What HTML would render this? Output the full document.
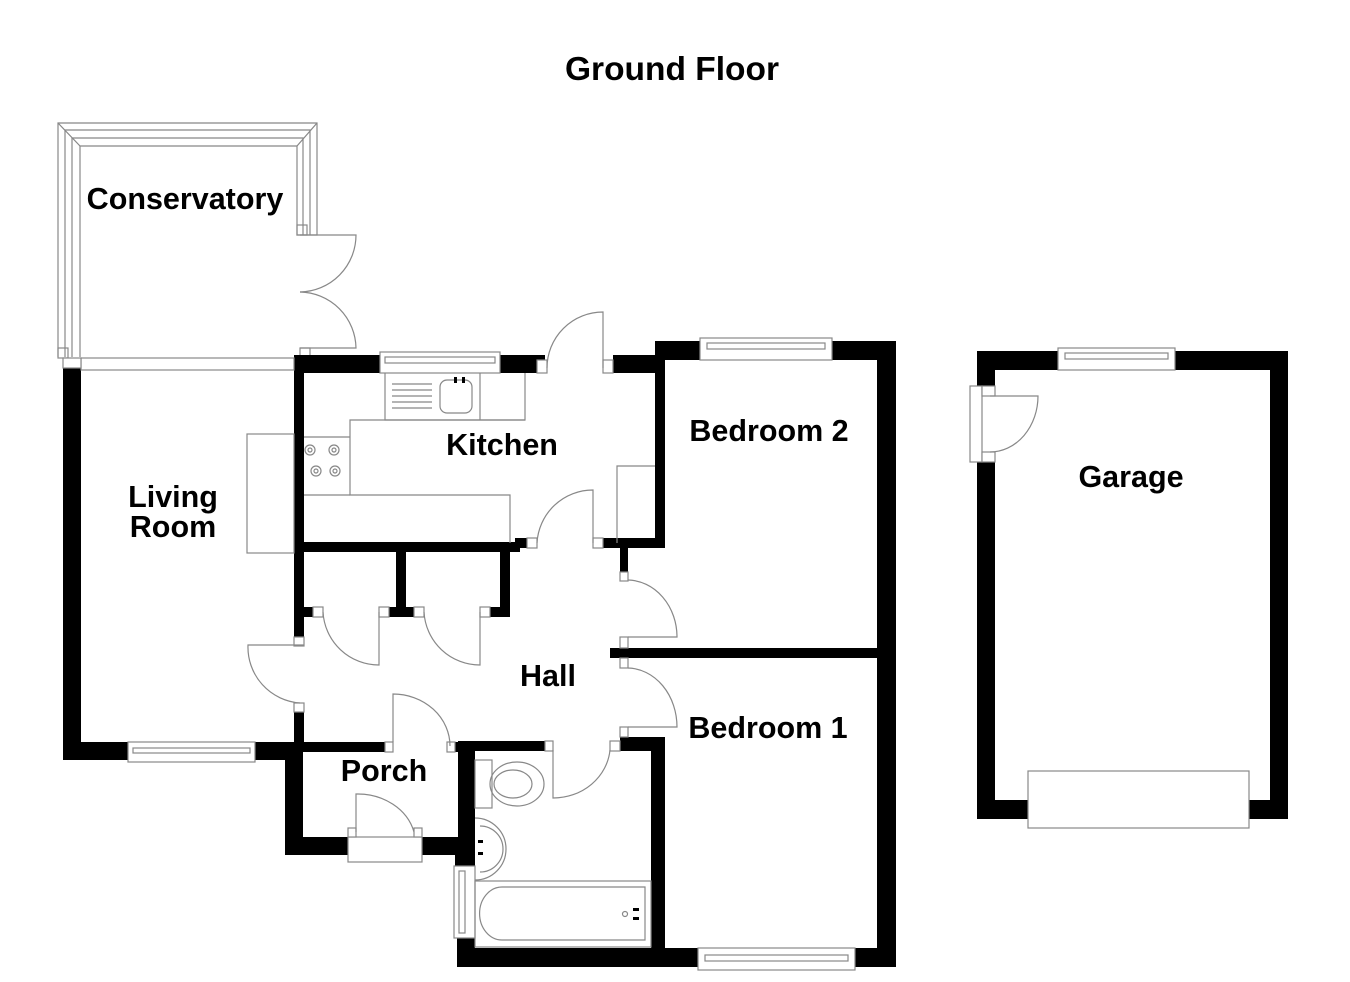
<!DOCTYPE html>
<html><head><meta charset="utf-8"><style>
html,body{margin:0;padding:0;background:#fff;}
svg{display:block}
text{font-family:"Liberation Sans",Arial,sans-serif;font-weight:bold;fill:#000}
</style></head><body>
<svg width="1350" height="982" viewBox="0 0 1350 982" xmlns="http://www.w3.org/2000/svg">
<text x="672" y="80" font-size="33.5" text-anchor="middle">Ground Floor</text>

<!-- Conservatory frame -->
<g fill="none" stroke="#888" stroke-width="1.2">
<path d="M58,357 V123 H317 V235 H297 V146 H80 V357"/>
<path d="M65,357 V130 H310 V235"/>
<path d="M72,357 V138 H303 V235"/>
<path d="M58,123 L80,146 M317,123 L297,146"/>
<rect x="297" y="225" width="10" height="10"/>
<path d="M300,235 H356 A57,57 0 0 1 300,292"/>
<path d="M300,292 A57,57 0 0 1 356,348 H300"/>
<rect x="300" y="348" width="10" height="10"/>
<rect x="58" y="348" width="10" height="10"/>
</g>

<g fill="#000">
<rect x="63" y="358" width="18" height="402"/>
<rect x="63" y="742" width="65" height="18"/>
<rect x="255" y="742" width="48" height="18"/>
<rect x="294" y="358" width="10" height="280"/>
<rect x="294" y="712" width="10" height="40"/>
<rect x="294" y="355" width="86" height="18"/>
<rect x="500" y="355" width="45" height="18"/>
<rect x="613" y="355" width="45" height="18"/>
<rect x="655" y="341" width="45" height="19"/>
<rect x="832" y="341" width="64" height="19"/>
<rect x="877" y="341" width="19" height="626"/>
<rect x="655" y="341" width="10" height="207"/>
<rect x="603" y="538" width="62" height="10"/>
<rect x="620" y="548" width="8" height="24"/>
<rect x="300" y="542" width="220" height="10"/>
<rect x="515" y="538" width="12" height="10"/>
<rect x="396" y="552" width="10" height="60"/>
<rect x="500" y="552" width="10" height="65"/>
<rect x="300" y="607" width="13" height="10"/>
<rect x="389" y="607" width="25" height="10"/>
<rect x="490" y="607" width="20" height="10"/>
<rect x="610" y="648" width="268" height="10"/>
<rect x="620" y="737" width="45" height="14"/>
<rect x="651" y="741" width="14" height="215"/>
<rect x="457" y="948" width="241" height="19"/>
<rect x="855" y="948" width="41" height="19"/>
<rect x="458" y="741" width="87" height="10"/>
<rect x="458" y="741" width="17" height="125"/>
<rect x="457" y="938" width="18" height="15"/>
<rect x="285" y="742" width="100" height="10"/>
<rect x="455" y="742" width="20" height="10"/>
<rect x="285" y="742" width="18" height="113"/>
<rect x="285" y="837" width="63" height="18"/>
<rect x="422" y="837" width="53" height="18"/>
<rect x="455" y="837" width="20" height="29"/>
<rect x="977" y="351" width="81" height="19"/>
<rect x="1175" y="351" width="113" height="19"/>
<rect x="1270" y="351" width="18" height="468"/>
<rect x="977" y="351" width="18" height="35"/>
<rect x="977" y="462" width="18" height="357"/>
<rect x="977" y="800" width="51" height="19"/>
<rect x="1248" y="800" width="40" height="19"/>
</g>

<g fill="#fff" stroke="#888" stroke-width="1.2">
<rect x="81" y="358" width="213" height="12"/>
<rect x="380" y="352" width="120" height="21"/>
<rect x="385" y="357" width="110" height="6"/>
<rect x="700" y="338" width="132" height="22"/>
<rect x="707" y="343" width="118" height="6"/>
<rect x="698" y="948" width="157" height="22"/>
<rect x="705" y="955" width="143" height="6"/>
<rect x="1058" y="348" width="117" height="22"/>
<rect x="1065" y="353" width="103" height="6"/>
<rect x="128" y="742" width="127" height="20"/>
<rect x="133" y="748" width="117" height="5"/>
<rect x="454" y="866" width="21" height="72"/>
<rect x="459" y="871" width="6" height="62"/>
<rect x="348" y="837" width="74" height="25"/>
<rect x="970" y="386" width="12" height="76"/>
<rect x="1028" y="771" width="221" height="57"/>
<rect x="294" y="637" width="10" height="9"/>
<rect x="294" y="703" width="10" height="9"/>
<rect x="313" y="607" width="10" height="10"/>
<rect x="379" y="607" width="10" height="10"/>
<rect x="414" y="607" width="10" height="10"/>
<rect x="480" y="607" width="10" height="10"/>
<rect x="527" y="538" width="10" height="10"/>
<rect x="593" y="538" width="10" height="10"/>
<rect x="620" y="572" width="8" height="9"/>
<rect x="620" y="637" width="8" height="11"/>
<rect x="620" y="658" width="8" height="10"/>
<rect x="620" y="727" width="8" height="10"/>
<rect x="545" y="741" width="8" height="10"/>
<rect x="610" y="741" width="10" height="10"/>
<rect x="385" y="742" width="8" height="10"/>
<rect x="447" y="742" width="8" height="10"/>
<rect x="537" y="360" width="10" height="13"/>
<rect x="603" y="360" width="10" height="13"/>
<rect x="982" y="386" width="13" height="10"/>
<rect x="982" y="452" width="13" height="10"/>
<rect x="348" y="828" width="8" height="9"/>
<rect x="414" y="828" width="8" height="9"/>
<rect x="63" y="358" width="18" height="10"/>
</g>

<g fill="none" stroke="#888" stroke-width="1.2">
<path d="M547,368 A56,56 0 0 1 603,312 V368"/>
<path d="M304,645 H248 A56,56 0 0 0 300,703"/>
<path d="M323,612 A56,56 0 0 0 379,665 V612"/>
<path d="M424,612 A56,56 0 0 0 480,665 V612"/>
<path d="M537,543 A56,56 0 0 1 593,490 V543"/>
<path d="M628,580 A50,57 0 0 1 677,637 H628"/>
<path d="M628,668 A50,59 0 0 1 677,727 H628"/>
<path d="M553,750 V798 A57,53 0 0 0 610,750"/>
<path d="M393,742 V694 A57,52 0 0 1 450,746"/>
<path d="M356,832 V794 A58,50 0 0 1 414,832"/>
<path d="M990,396 H1038 A48,56 0 0 1 990,452"/>
<path d="M385,373 V420 H525 V373"/>
<path d="M480,373 V420"/>
<path d="M525,420 H350 V495 H510 V543"/>
<path d="M304,437 H350 M304,495 H350"/>
<path d="M617,543 V466 H655"/>
<rect x="247" y="434" width="47" height="119"/>
<rect x="440" y="380" width="32" height="33" rx="7"/>
<circle cx="310" cy="450" r="5"/><circle cx="310" cy="450" r="2"/>
<circle cx="334" cy="450" r="5"/><circle cx="334" cy="450" r="2"/>
<circle cx="316" cy="471" r="5"/><circle cx="316" cy="471" r="2"/>
<circle cx="335" cy="471" r="5"/><circle cx="335" cy="471" r="2"/>
<path d="M392,384 H432 M392,390 H432 M392,396 H432 M392,402 H432 M392,408 H432"/>
<rect x="475" y="760" width="17" height="48"/>
<ellipse cx="517" cy="784" rx="27" ry="22"/>
<ellipse cx="513" cy="784" rx="19" ry="14"/>
<path d="M475,818 A31,31 0 0 1 475,880"/>
<path d="M480,826 A23,23 0 0 1 480,872"/>
<rect x="475" y="881" width="176" height="66"/>
<path d="M645,887 H502 A22,26 0 0 0 502,940 H645 Z"/>
<circle cx="625" cy="914" r="2.5"/>
</g>
<g fill="#000">
<rect x="633" y="908" width="6" height="3"/><rect x="633" y="917" width="6" height="3"/>
<rect x="454" y="377" width="3" height="6"/><rect x="462" y="377" width="3" height="6"/>
<rect x="478" y="840" width="5" height="3"/><rect x="478" y="852" width="5" height="3"/>
</g>

<text x="185" y="209" font-size="30.5" text-anchor="middle">Conservatory</text>
<text x="173" y="507" font-size="30.5" text-anchor="middle">Living</text>
<text x="173" y="537" font-size="30.5" text-anchor="middle">Room</text>
<text x="502" y="455" font-size="30.5" text-anchor="middle">Kitchen</text>
<text x="769" y="441" font-size="30.5" text-anchor="middle">Bedroom 2</text>
<text x="548" y="686" font-size="30.5" text-anchor="middle">Hall</text>
<text x="768" y="738" font-size="30.5" text-anchor="middle">Bedroom 1</text>
<text x="384" y="781" font-size="30.5" text-anchor="middle">Porch</text>
<text x="1131" y="487" font-size="30.5" text-anchor="middle">Garage</text>
</svg>
</body></html>
